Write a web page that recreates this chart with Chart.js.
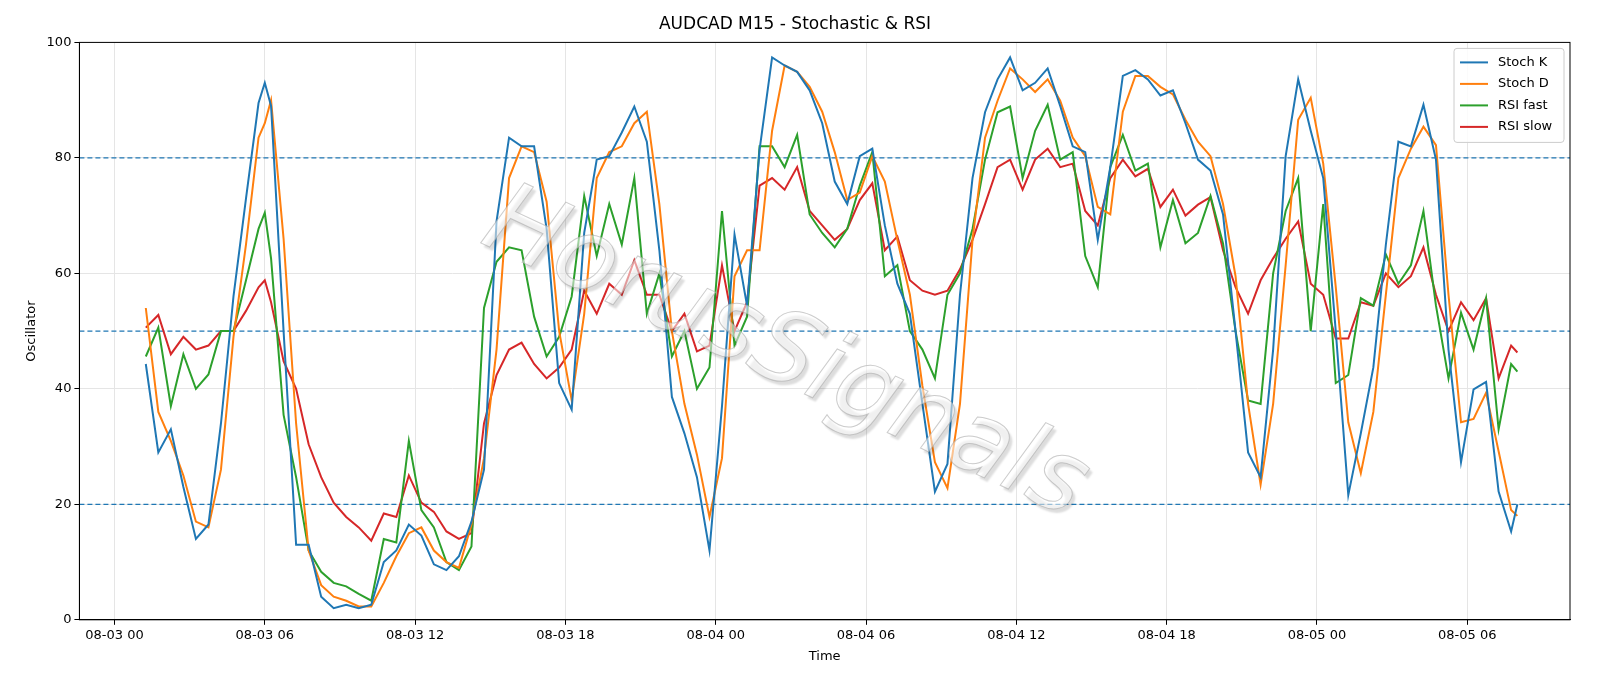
<!DOCTYPE html>
<html>
<head>
<meta charset="utf-8">
<script src="https://cdn.jsdelivr.net/npm/chart.js@4"></script>
<style>
  html, body { margin: 0; padding: 0; background: #fff; }
  #wrap { width: 1600px; height: 686px; }
</style>
</head>
<body>
<div id="wrap"><canvas id="grafico"></canvas></div>
<script>
// hours since 08-03 00:00
const horas = [1.25,1.75,2.25,2.75,3.25,3.75,4.25,4.75,5.25,5.75,6.0,6.25,6.75,7.25,7.75,8.25,8.75,9.25,9.75,10.25,10.75,11.25,11.75,12.25,12.75,13.25,13.75,14.25,14.75,
  15.25,15.75,16.25,16.75,17.25,17.75,18.25,18.75,19.25,19.75,20.25,20.75,21.25,21.75,22.25,22.75,23.25,23.75,24.25,24.75,25.25,25.75,26.25,26.75,27.25,27.75,28.25,
  28.75,29.25,29.75,30.25,30.75,31.25,31.75,32.25,32.75,33.25,33.75,34.25,34.75,35.25,35.75,36.25,36.75,37.25,37.75,38.25,38.75,39.25,39.75,40.25,40.75,41.25,41.75,
  42.25,42.75,43.25,43.75,44.25,44.75,45.25,45.75,46.25,46.75,47.25,47.75,48.25,48.75,49.25,49.75,50.25,50.75,51.25,51.75,52.25,52.75,53.25,53.75,54.25,54.75,55.25,55.75,56.0];

const stochK = [44.3,29,33,23,14,16.5,34,56,73,89.5,93,89,50,13,13,4,2,2.6,2,2.6,10,12,16.5,14.6,9.6,8.6,11,17,26,
  69,83.5,82,82,67.7,41,36.4,67,79.7,80.3,84.4,88.9,82.8,64,38.6,32.3,24.7,12,37,66.7,54.4,81.4,97.4,96,94.9,91.7,86,
  75.9,72,80.3,81.6,68.3,58.2,53,37.4,22.2,27,56.3,76.5,87.9,93.6,97.4,91.7,93,95.5,89,82,81,65.8,78.4,94.2,95.2,93.6,90.8,
  91.7,86,79.7,77.8,70.2,50,29,24.7,46.8,80.3,93.6,84.7,76.5,50,21.6,32.3,43.7,65,82.8,82,89.2,79.7,46.8,27.3,39.9,41.2,22.2,15.3,20];

const stochD = [54,36,31,25,17,16,26,49,65,83.5,86,90,66,34,12,6,4,3.3,2.3,2.3,6.4,11,15,16,12,10,9,16.5,28,
  46.8,76.5,82,81,72.4,50,38,53,76.5,81,82,86,88,72,50,37.4,28.6,17.8,28,59.5,64,64,84.7,96,94.9,92.3,88,
  81,72.7,74,80.3,75.9,65.8,56.3,40.5,27.3,22.8,37.4,65.8,83.5,89.9,95.5,93.6,91.4,93.6,89.9,83.5,80.3,71.5,70.2,88,94.2,94.2,92.3,
  91,86.6,82.8,80.3,72,59.5,37.4,23.4,37.4,61.4,86.6,90.4,79,57.6,34.2,25.4,36,56.3,76.5,81.6,85.4,82.2,56.3,34.2,34.8,39.3,29.2,19,18];

const rsiFast = [45.6,50.6,37,46,40,42.5,50,50,58.8,67.7,70.5,62.6,35.5,24.7,12,8.3,6.4,5.8,4.5,3.3,14,13.4,31,19,16,10,8.6,12.7,54,
  62,64.5,64,52.5,45.6,49,56,73.4,63,72,65,76.5,53,60,45.6,50,40,43.7,70.8,47.5,52.5,82,82,78.4,84,70.2,67,
  64.5,67.7,75.2,81,59.5,61.4,50,46.8,41.8,56.3,60,67.7,79.7,87.9,88.9,76.5,84.7,89.2,79.7,81,63,57.6,78.4,84,77.8,79,64.5,
  72.7,65.2,67,73.4,65.2,50,38,37.4,60,70.8,76.5,50,72,41,42.4,55.7,54.4,63.3,58.2,61.4,70.8,54.4,41.8,53.2,46.8,55.7,33,44.3,43];

const rsiSlow = [50.6,52.8,46,49,46.8,47.5,50,50,53.5,57.6,58.8,55,44.8,40,30.4,24.7,20.3,17.8,16,13.7,18.4,17.8,25,20.3,18.7,15.3,14,15,34,
  42.4,46.8,48,44.3,41.8,43.7,46.8,57,53,58.2,56.3,62.3,56.3,56.3,50,53,46.5,47.5,61.4,50,55,75.2,76.5,74.5,78.4,70.8,68.3,
  65.8,67.7,72.7,75.6,64,66.4,58.8,57,56.3,57,60.7,65.8,72,78.4,79.7,74.5,79.7,81.6,78.4,79,70.8,68.3,76.5,79.7,76.8,78.1,71.5,
  74.5,70,71.9,73.2,64,57.6,53,58.8,62.6,66,69,58.2,56.3,48.7,48.7,55,54.4,60,57.6,59.5,64.5,56.3,50,55,51.9,55.7,41.8,47.5,46.3];

const rotulosTempo = ['08-03 00','08-03 06','08-03 12','08-03 18','08-04 00','08-04 06','08-04 12','08-04 18','08-05 00','08-05 06'];
const niveis = [80, 50, 20];

const pontos = arr => arr.map((v, i) => ({ x: horas[i], y: v }));

const extras = {
  id: 'extras',
  beforeDatasetsDraw(chart) {
    const { ctx, chartArea, scales } = chart;
    ctx.save();
    ctx.strokeStyle = '#1f77b4';
    ctx.lineWidth = 1.3;
    ctx.setLineDash([5, 3]);
    niveis.forEach(n => {
      const y = scales.y.getPixelForValue(n);
      ctx.beginPath();
      ctx.moveTo(chartArea.left, y);
      ctx.lineTo(chartArea.right, y);
      ctx.stroke();
    });
    ctx.restore();
  },
  afterDatasetsDraw(chart) {
    const { ctx, chartArea } = chart;
    // marca d'agua
    ctx.save();
    ctx.translate((chartArea.left + chartArea.right) / 2 - 40, (chartArea.top + chartArea.bottom) / 2 + 25);
    ctx.rotate(25 * Math.PI / 180);
    ctx.font = 'italic 100px "DejaVu Sans"';
    ctx.textAlign = 'center';
    ctx.textBaseline = 'middle';
    ctx.shadowColor = 'rgba(0,0,0,0.25)';
    ctx.shadowOffsetX = 3;
    ctx.shadowOffsetY = 4;
    ctx.shadowBlur = 2;
    ctx.fillStyle = 'rgba(255,255,255,0.55)';
    ctx.fillText('HorusSignals', 0, 0);
    ctx.shadowColor = 'transparent';
    ctx.strokeStyle = 'rgba(170,170,170,0.6)';
    ctx.lineWidth = 1;
    ctx.strokeText('HorusSignals', 0, 0);
    ctx.restore();

    // legenda
    const itens = chart.data.datasets;
    const lx = chartArea.right - 116, ly = chartArea.top + 6, lw = 110, lh = 94;
    ctx.save();
    ctx.fillStyle = 'rgba(255,255,255,0.85)';
    ctx.strokeStyle = '#ccc';
    ctx.lineWidth = 1;
    ctx.beginPath();
    ctx.roundRect(lx, ly, lw, lh, 3);
    ctx.fill();
    ctx.stroke();
    ctx.font = '13px "DejaVu Sans"';
    ctx.textBaseline = 'middle';
    itens.forEach((d, i) => {
      const y = ly + 14 + i * 21.5;
      ctx.strokeStyle = d.borderColor;
      ctx.lineWidth = 2;
      ctx.beginPath();
      ctx.moveTo(lx + 6, y);
      ctx.lineTo(lx + 34, y);
      ctx.stroke();
      ctx.fillStyle = '#000';
      ctx.fillText(d.label, lx + 44, y);
    });
    ctx.restore();
  },
  afterDraw(chart) {
    const { ctx, chartArea } = chart;
    ctx.save();
    ctx.strokeStyle = '#000';
    ctx.lineWidth = 1;
    ctx.strokeRect(chartArea.left, chartArea.top, chartArea.right - chartArea.left, chartArea.bottom - chartArea.top);
    ctx.restore();
  }
};

const serie = (label, data, cor) => ({
  label, data: pontos(data), borderColor: cor, backgroundColor: cor,
  borderWidth: 2, pointRadius: 0, tension: 0, fill: false
});

new Chart(document.getElementById('grafico'), {
  type: 'line',
  data: {
    datasets: [
      serie('Stoch K', stochK, '#1f77b4'),
      serie('Stoch D', stochD, '#ff7f0e'),
      serie('RSI fast', rsiFast, '#2ca02c'),
      serie('RSI slow', rsiSlow, '#d62728')
    ]
  },
  options: {
    responsive: true,
    maintainAspectRatio: false,
    animation: false,
    devicePixelRatio: 1,
    layout: { padding: { left: 20, right: 30, top: 0, bottom: 18 } },
    plugins: {
      title: { display: true, text: 'AUDCAD M15 - Stochastic & RSI', color: '#000', font: { family: 'DejaVu Sans', size: 17, weight: 'normal' }, padding: { top: 14, bottom: 8 } },
      legend: { display: false },
      tooltip: { enabled: false }
    },
    scales: {
      x: {
        type: 'linear', min: -1.4, max: 58.1,
        afterBuildTicks: axis => { axis.ticks = rotulosTempo.map((_, i) => ({ value: i * 6 })); },
        ticks: { color: '#000', font: { family: 'DejaVu Sans', size: 13 }, maxRotation: 0, callback: v => rotulosTempo[v / 6] },
        grid: { color: '#e5e5e5', drawTicks: true, tickColor: '#000', tickLength: 5 },
        border: { color: '#000' },
        title: { display: true, text: 'Time', color: '#000', font: { family: 'DejaVu Sans', size: 13 }, padding: { top: 2 } }
      },
      y: {
        min: 0, max: 100,
        ticks: { stepSize: 20, color: '#000', font: { family: 'DejaVu Sans', size: 13 } },
        grid: { color: '#e5e5e5', tickColor: '#000', tickLength: 5 },
        border: { color: '#000' },
        title: { display: true, text: 'Oscillator', color: '#000', font: { family: 'DejaVu Sans', size: 13 } }
      }
    }
  },
  plugins: [extras]
});
</script>
</body>
</html>
